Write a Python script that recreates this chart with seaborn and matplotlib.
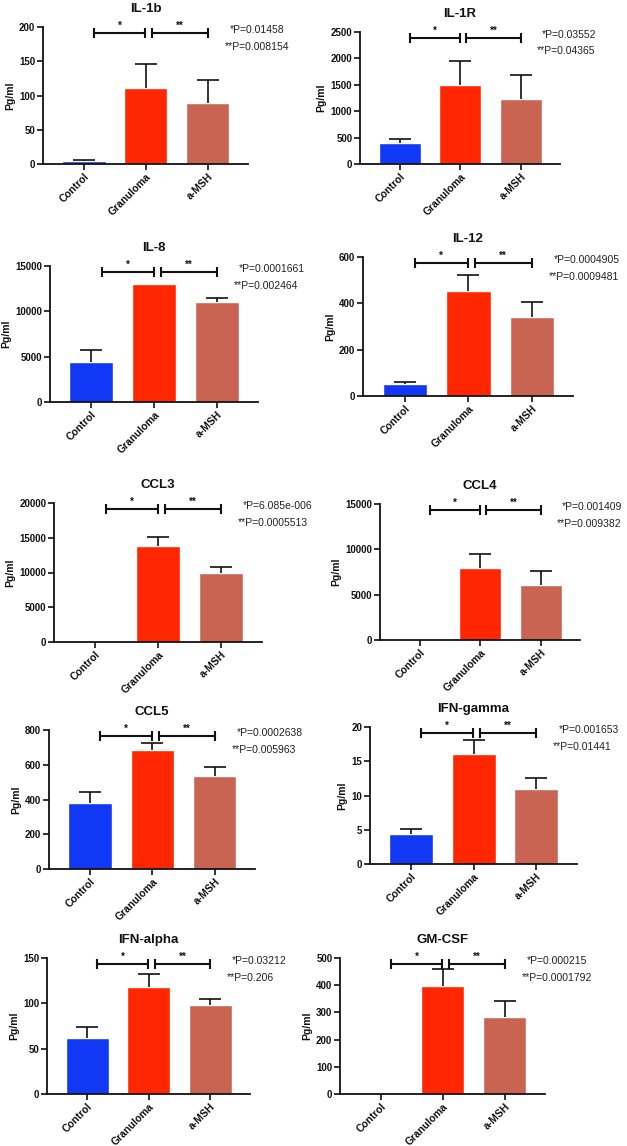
import numpy as np
import pandas as pd
import matplotlib
matplotlib.use('Agg')
import matplotlib.pyplot as plt
import seaborn as sns

# Data (mean, upper SEM)
groups = ['Control', 'Granuloma', 'a-MSH']
bar_colors = ['#1038F5', '#FF2600', '#C96452']

titles = ['IL-1b', 'IL-1R', 'IL-8', 'IL-12', 'CCL3', 'CCL4',
          'CCL5', 'IFN-gamma', 'IFN-alpha', 'GM-CSF']

il1b_mean = [4, 110.5, 89.5]
il1b_err = [2.4, 35.5, 32.5]
il1r_mean = [400, 1490, 1230]
il1r_err = [70, 470, 465]
il8_mean = [4360, 13020, 11000]
il8_err = [1360, np.nan, 480]
il12_mean = [50, 455, 340]
il12_err = [9, 67, 66]
ccl3_mean = [0, 13800, 9860]
ccl3_err = [np.nan, 1300, 960]
ccl4_mean = [0, 7920, 6080]
ccl4_err = [np.nan, 1620, 1510]
ccl5_mean = [378, 683, 533]
ccl5_err = [67, 42, 56]
ifng_mean = [4.4, 16.0, 11.0]
ifng_err = [0.7, 2.1, 1.6]
ifna_mean = [62, 117.5, 98.3]
ifna_err = [12.3, 14.8, 7.0]
gmcsf_mean = [3.5, 397, 283]
gmcsf_err = [np.nan, 64, 58]

y_max = [200, 2500, 15000, 600, 20000, 15000, 800, 20, 150, 500]
y_step = [50, 500, 5000, 200, 5000, 5000, 200, 5, 50, 100]

p_star = ['*P=0.01458', '*P=0.03552', '*P=0.0001661', '*P=0.0004905',
          '*P=6.085e-006', '*P=0.001409', '*P=0.0002638', '*P=0.001653',
          '*P=0.03212', '*P=0.000215']
p_2star = ['**P=0.008154', '**P=0.04365', '**P=0.002464', '**P=0.0009481',
           '**P=0.0005513', '**P=0.009382', '**P=0.005963', '**P=0.01441',
           '**P=0.206', '**P=0.0001792']

means = [il1b_mean, il1r_mean, il8_mean, il12_mean, ccl3_mean, ccl4_mean,
         ccl5_mean, ifng_mean, ifna_mean, gmcsf_mean]
errs = [il1b_err, il1r_err, il8_err, il12_err, ccl3_err, ccl4_err,
        ccl5_err, ifng_err, ifna_err, gmcsf_err]

# axes boxes in pixels: x0, x1, ytop, ybottom
boxes = [(43, 248, 27, 164), (360, 560, 32, 164),
         (50, 258, 266, 402), (363, 573, 257, 396),
         (54, 262, 503, 642), (380, 580, 504, 640),
         (49, 255, 730, 869), (370, 577, 727, 864),
         (47, 250, 958, 1094), (340, 545, 958, 1094)]

sns.set_style('ticks')
plt.rcParams['font.family'] = ['Liberation Sans', 'DejaVu Sans']
dark = '#111111'
plt.rcParams['text.color'] = dark
plt.rcParams['axes.labelcolor'] = dark
plt.rcParams['xtick.color'] = dark
plt.rcParams['ytick.color'] = dark

W, H = 627, 1146
fig = plt.figure(figsize=(W / 100, H / 100), dpi=100)

for i, title in enumerate(titles):
    x0, x1, yt, yb = boxes[i]
    ax = fig.add_axes([x0 / W, 1 - yb / H, (x1 - x0) / W, (yb - yt) / H])
    df = pd.DataFrame({'group': groups, 'value': means[i]})
    sns.barplot(data=df, x='group', y='value', hue='group', palette=bar_colors,
                saturation=1, width=0.7, errorbar=None, legend=False, ax=ax,
                zorder=2)
    err = np.array(errs[i], dtype=float)
    keep = ~np.isnan(err)
    xs = np.arange(len(groups))
    m = np.array(means[i], dtype=float)[keep]
    _, caps, _ = ax.errorbar(xs[keep], m,
                             yerr=[np.zeros(keep.sum()), err[keep]],
                             fmt='none', ecolor=dark, elinewidth=1.2,
                             capsize=8, capthick=1.2, zorder=3)
    # only the upper cap is drawn in the original
    for c in caps:
        if np.allclose(c.get_ydata(), m):
            c.set_visible(False)

    ym = y_max[i]
    ax.set_ylim(0, ym)
    ax.set_xlim(-0.66, 2.65)
    ax.set_yticks(np.arange(0, ym + y_step[i] / 2, y_step[i]))
    ax.set_yticklabels([f'{int(v)}' for v in ax.get_yticks()],
                       fontsize=7, fontweight='bold')
    ax.set_xticks(xs)
    ax.set_xticklabels(groups, rotation=45, ha='right', rotation_mode='anchor',
                       fontsize=7.5, fontweight='bold')
    ax.tick_params(axis='both', length=4, width=1.2, color=dark, pad=1.5)
    ax.set_xlabel('')
    ax.set_ylabel('Pg/ml', fontsize=7.5, fontweight='bold', labelpad=3)
    ax.set_title(title, fontsize=9.5, fontweight='bold', pad=11)
    for s in ['left', 'bottom']:
        ax.spines[s].set_linewidth(1.3)
        ax.spines[s].set_color(dark)
    sns.despine(ax=ax)

    # significance brackets
    yb_ = 0.955 * ym
    for (a, b, star) in [(0.16, 0.99, '*'), (1.1, 2.0, '**')]:
        ax.plot([a, b], [yb_, yb_], color=dark, lw=1.5, marker='|',
                markersize=7, mew=1.5, clip_on=False, zorder=4)
        ax.annotate(star, ((a + b) / 2, yb_), xytext=(0, 1.5),
                    textcoords='offset points', ha='center', va='bottom',
                    fontsize=7, fontweight='bold', color=dark)

    ax.text(0.91, 0.975, p_star[i], transform=ax.transAxes, fontsize=7.5,
            ha='left', va='center', color='#222222')
    ax.text(0.885, 0.855, p_2star[i], transform=ax.transAxes, fontsize=7.5,
            ha='left', va='center', color='#222222')

fig.savefig('out.png', dpi=100)
